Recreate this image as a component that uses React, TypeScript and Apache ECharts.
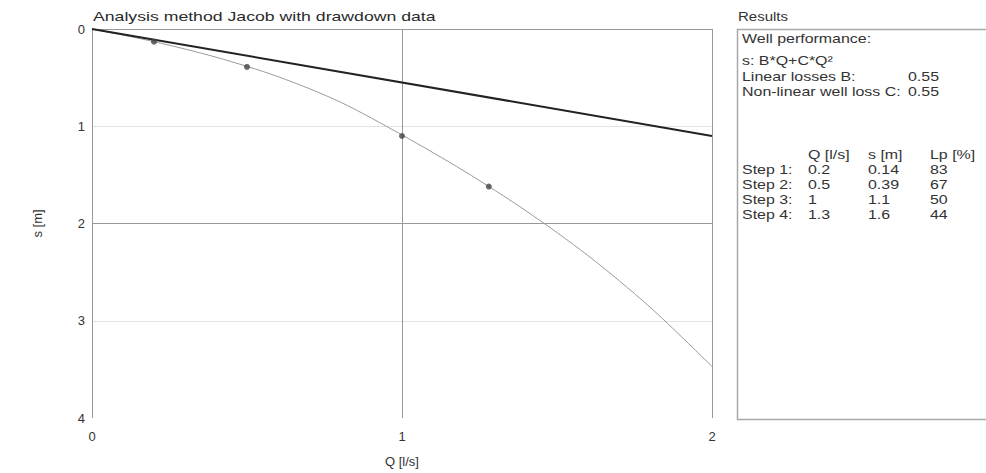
import React, { useEffect, useRef } from "react";
import * as echarts from "echarts";

const titleText = "Analysis method Jacob with drawdown data";
const xTicks = [0, 1, 2];
const yTicks = [0, 1, 2, 3, 4];
const linearB = 0.55;
const nonLinearC = 0.55;
const linearQ = [0, 2];
const linearS = [0, 1.1];
const curveQ = [0, 0.2, 0.4, 0.6, 0.8, 1.0, 1.2, 1.4, 1.6, 1.8, 2.0];
const curveS = [0, 0.13, 0.29, 0.49, 0.75, 1.09, 1.46, 1.87, 2.33, 2.86, 3.47];
const pointQ = [0.2, 0.5, 1.0, 1.28];
const pointS = [0.13, 0.39, 1.1, 1.62];
const steps = ["Step 1:", "Step 2:", "Step 3:", "Step 4:"];
const stepQ = [0.2, 0.5, 1, 1.3];
const stepS = [0.14, 0.39, 1.1, 1.6];
const stepLp = [83, 67, 50, 44];
const tableHeaders = ["Q [l/s]", "s [m]", "Lp [%]"];

const FONT = "'Liberation Sans', Arial, sans-serif";

export default function App() {
  const ref = useRef<HTMLDivElement>(null);
  useEffect(() => {
    if (!ref.current) return;
    const chart = echarts.init(ref.current, undefined, { renderer: "svg" });
    const txt = (text: string, x: number, y: number, size = 12, sx = 1.33, color = "#333") => ({
      type: "text",
      x,
      y,
      scaleX: sx,
      style: {
        text,
        fontSize: size,
        fontFamily: FONT,
        fill: color,
        align: "left",
        verticalAlign: "middle",
      },
    });
    const panel: any[] = [
      {
        type: "rect",
        shape: { x: 737.5, y: 29.5, width: 260, height: 390 },
        style: { fill: "none", stroke: "#a8a8a8", lineWidth: 1.5 },
      },
      txt(titleText, 93, 16, 13, 1.36, "#2a2a2a"),
      txt("Results", 738, 17, 12, 1.25),
      txt("Well performance:", 742, 39),
      txt("s: B*Q+C*Q²", 742, 61),
      txt("Linear losses B:", 742, 77),
      txt(String(linearB), 908, 77),
      txt("Non-linear well loss C:", 742, 92),
      txt(String(nonLinearC), 908, 92),
      txt(tableHeaders[0], 808, 155),
      txt(tableHeaders[1], 868, 155),
      txt(tableHeaders[2], 930, 155),
    ];
    steps.forEach((s, i) => {
      const y = 170 + i * 14.8;
      panel.push(txt(s, 742, y));
      panel.push(txt(String(stepQ[i]), 808, y));
      panel.push(txt(String(stepS[i]), 868, y));
      panel.push(txt(String(stepLp[i]), 930, y));
    });
    chart.setOption({
      animation: false,
      backgroundColor: "#fff",
      textStyle: { fontFamily: FONT },
      grid: { left: 92, right: 274, top: 29, bottom: 54, show: false },
      xAxis: {
        type: "value",
        min: xTicks[0],
        max: xTicks[xTicks.length - 1],
        interval: 1,
        name: "Q [l/s]",
        nameLocation: "middle",
        nameGap: 37,
        nameTextStyle: { fontSize: 13, color: "#333", fontFamily: FONT },
        axisLine: { show: false },
        axisTick: { show: false },
        axisLabel: { fontSize: 13, color: "#333", margin: 12, fontFamily: FONT },
        splitLine: { show: true, lineStyle: { color: "#999", width: 1 } },
      },
      yAxis: {
        type: "value",
        inverse: true,
        min: yTicks[0],
        max: yTicks[yTicks.length - 1],
        interval: 1,
        name: "s [m]",
        nameLocation: "middle",
        nameRotate: 90,
        nameGap: 48,
        nameTextStyle: { fontSize: 13, color: "#333", fontFamily: FONT },
        axisLine: { show: false },
        axisTick: { show: false },
        axisLabel: { fontSize: 13, color: "#333", margin: 7, fontFamily: FONT, padding: [0, 0, 6, 0] },
        splitLine: {
          show: true,
          lineStyle: { color: ["#999", "#e2e2e2", "#999", "#e2e2e2", "rgba(0,0,0,0)"], width: 1 },
        },
      },
      series: [
        {
          type: "line",
          data: curveQ.map((q, i) => [q, curveS[i]]),
          smooth: 0.3,
          showSymbol: false,
          lineStyle: { color: "#9a9a9a", width: 1 },
          z: 2,
        },
        {
          type: "line",
          data: linearQ.map((q, i) => [q, linearS[i]]),
          showSymbol: false,
          lineStyle: { color: "#222", width: 2 },
          z: 3,
        },
        {
          type: "scatter",
          data: pointQ.map((q, i) => [q, pointS[i]]),
          symbol: "circle",
          symbolSize: 6,
          itemStyle: { color: "#444" },
          z: 4,
        },
      ],
      graphic: panel,
    });
    return () => chart.dispose();
  }, []);
  return <div ref={ref} style={{ width: 986, height: 473, position: "absolute", left: 0, top: 0 }} />;
}
